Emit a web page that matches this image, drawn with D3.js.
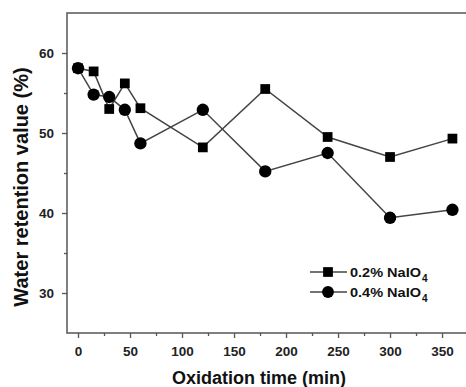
<!DOCTYPE html>
<html>
<head>
<meta charset="utf-8">
<script src="https://cdn.jsdelivr.net/npm/d3@7"></script>
<style>
	body { margin: 0; background: #fff; }
	text { font-family: Arial, "Liberation Sans", sans-serif; font-weight: bold; }
</style>
</head>
<body>
<svg id="chart" width="466" height="387"></svg>
<script>
const times = [0, 15, 30, 45, 60, 120, 180, 240, 300, 360];
const naio02 = [58.1, 57.7, 53.0, 56.2, 53.1, 48.2, 55.5, 49.5, 47.0, 49.3];
const naio04 = [58.1, 54.8, 54.5, 52.9, 48.7, 52.9, 45.2, 47.5, 39.4, 40.4];
const xTicks = [0, 50, 100, 150, 200, 250, 300, 350];
const yTicks = [30, 40, 50, 60];

const svg = d3.select('#chart');
const axisColor = '#555';

const x = d3.scaleLinear().domain([-10.6, 374]).range([67, 467]);
const y = d3.scaleLinear().domain([25, 65]).range([333, 13]);

// frame
svg.append('rect')
	.attr('x', 67).attr('y', 13)
	.attr('width', 400).attr('height', 320)
	.attr('fill', 'none')
	.attr('stroke', axisColor)
	.attr('stroke-width', 1.5);

// minor ticks
const xMinor = d3.range(25, 375, 50);
const yMinor = d3.range(35, 65, 10);

svg.append('g')
	.attr('transform', 'translate(0,333)')
	.call(d3.axisBottom(x).tickValues(xTicks).tickSize(5).tickPadding(8));
svg.append('g')
	.attr('transform', 'translate(0,333)')
	.call(d3.axisBottom(x).tickValues(xMinor).tickSize(3).tickFormat(''));

svg.append('g')
	.attr('transform', 'translate(67,0)')
	.call(d3.axisLeft(y).tickValues(yTicks).tickSize(5).tickPadding(8));
svg.append('g')
	.attr('transform', 'translate(67,0)')
	.call(d3.axisLeft(y).tickValues(yMinor).tickSize(3).tickFormat(''));

svg.selectAll('.domain').remove();
svg.selectAll('.tick line').attr('stroke', axisColor).attr('stroke-width', 1.3);
svg.selectAll('.tick text')
	.attr('fill', '#222')
	.style('font-size', '13.5px');

// axis titles
svg.append('text')
	.attr('x', 259).attr('y', 384)
	.attr('text-anchor', 'middle')
	.attr('fill', '#111')
	.style('font-size', '18px')
	.text('Oxidation time (min)');

svg.append('text')
	.attr('transform', 'translate(28,187) rotate(-90)')
	.attr('text-anchor', 'middle')
	.attr('fill', '#111')
	.style('font-size', '20px')
	.text('Water retention value (%)');

// series
const series = [
	{ name: '0.2% NaIO', values: naio02, shape: d3.symbolSquare },
	{ name: '0.4% NaIO', values: naio04, shape: d3.symbolCircle }
];

const line = d3.line()
	.x(d => x(d[0]))
	.y(d => y(d[1]));

series.forEach((s) => {
	const pts = times.map((t, i) => [t, s.values[i]]);
	svg.append('path')
		.datum(pts)
		.attr('d', line)
		.attr('fill', 'none')
		.attr('stroke', '#444')
		.attr('stroke-width', 1.5);
});

series.forEach((s) => {
	const pts = times.map((t, i) => [t, s.values[i]]);
	svg.append('g').selectAll('path')
		.data(pts)
		.enter()
		.append('path')
		.attr('transform', d => `translate(${x(d[0])},${y(d[1])})`)
		.attr('d', d3.symbol().type(s.shape).size(s.shape === d3.symbolSquare ? 95 : 120))
		.attr('fill', '#000');
});

// legend
const legend = svg.append('g');
series.forEach((s, i) => {
	const ly = 272 + i * 20;
	legend.append('line')
		.attr('x1', 310).attr('x2', 347)
		.attr('y1', ly).attr('y2', ly)
		.attr('stroke', '#444')
		.attr('stroke-width', 1.5);
	legend.append('path')
		.attr('transform', `translate(328,${ly})`)
		.attr('d', d3.symbol().type(s.shape).size(s.shape === d3.symbolSquare ? 95 : 110))
		.attr('fill', '#000');
	legend.append('text')
		.attr('x', 350).attr('y', ly + 5)
		.attr('fill', '#111')
		.attr('textLength', 71)
		.attr('lengthAdjust', 'spacingAndGlyphs')
		.style('font-size', '13px')
		.text(s.name);
	legend.append('text')
		.attr('x', 422).attr('y', ly + 10)
		.attr('fill', '#111')
		.style('font-size', '10px')
		.text('4');
});
</script>
</body>
</html>
